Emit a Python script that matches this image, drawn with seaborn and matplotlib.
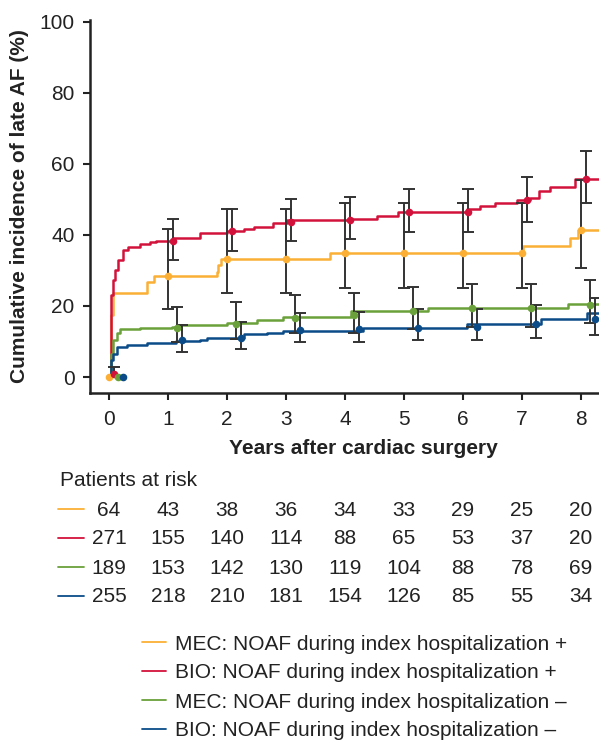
import numpy as np
import pandas as pd
import matplotlib
matplotlib.use("Agg")
import matplotlib.pyplot as plt
import matplotlib.transforms as mtransforms
from matplotlib.lines import Line2D
import seaborn as sns

# Group labels and colours
groups = ["MEC: NOAF during index hospitalization +",
          "BIO: NOAF during index hospitalization +",
          "MEC: NOAF during index hospitalization \u2013",
          "BIO: NOAF during index hospitalization \u2013"]
colors = ["#FBB035", "#D3123C", "#6AA13A", "#0B4C88"]

# Step curves (years, %)
orange_t = [0, 0.04, 0.07, 0.64, 0.76, 1.83, 1.85, 1.89, 3.75, 7.01, 7.81, 7.95, 8.3]
orange_v = [0, 17.5, 23.6, 26.8, 28.5, 29.7, 31.5, 33.1, 34.8, 37.0, 39.2, 41.4, 41.4]
red_t = [0, 0.04, 0.07, 0.1, 0.16, 0.24, 0.33, 0.52, 0.69, 0.8, 1.09, 1.54, 2.0, 2.28,
         2.45, 2.78, 3.01, 4.07, 4.54, 4.9, 6.06, 6.29, 6.54, 6.91, 7.14, 7.28, 7.47, 7.9, 8.3]
red_v = [0, 23.1, 27.3, 30.1, 33.0, 35.8, 36.5, 37.4, 38.0, 38.4, 39.0, 40.5, 41.2, 41.7,
         42.3, 43.3, 44.2, 44.6, 45.4, 46.5, 47.2, 48.2, 48.9, 49.7, 50.3, 52.5, 53.6, 55.8, 55.8]
green_t = [0, 0.03, 0.07, 0.13, 0.19, 0.53, 1.06, 1.2, 2.0, 2.5, 2.95, 4.11, 5.41, 7.78, 8.3]
green_v = [0, 6.6, 10.4, 12.3, 13.4, 13.7, 14.2, 14.6, 15.1, 16.1, 16.8, 18.6, 19.4, 20.5, 20.5]
blue_t = [0, 0.03, 0.07, 0.13, 0.3, 0.64, 1.14, 1.54, 1.66, 2.28, 2.67, 2.95, 4.31, 6.06,
          7.33, 8.1, 8.3]
blue_v = [0, 4.8, 6.6, 8.5, 9.0, 9.5, 10.2, 10.4, 11.1, 12.0, 12.5, 13.0, 13.9, 14.9,
          16.3, 17.9, 17.9]

# Point estimates with confidence intervals at each year
years = [0, 1, 2, 3, 4, 5, 6, 7, 8]
orange_est = [0, 28.5, 33.1, 33.1, 34.8, 34.8, 34.8, 34.8, 41.4]
orange_lo = [0, 19.2, 23.6, 23.6, 25.0, 25.0, 25.0, 25.0, 30.6]
orange_hi = [0, 41.7, 47.3, 47.2, 48.9, 48.9, 48.9, 48.9, 55.5]
red_est = [0.8, 38.4, 41.1, 43.7, 44.2, 46.5, 46.5, 49.7, 55.8]
red_lo = [0, 33.0, 35.6, 38.3, 38.8, 40.7, 40.7, 43.5, 49.1]
red_hi = [2.9, 44.5, 47.3, 50.1, 50.6, 53.0, 53.0, 56.4, 63.7]
green_est = [0, 13.8, 14.9, 16.7, 17.5, 18.7, 19.4, 19.4, 20.4]
green_lo = [0, 9.9, 10.7, 12.4, 12.5, 13.5, 14.0, 14.0, 15.2]
green_hi = [0, 19.8, 21.0, 23.0, 23.6, 25.2, 26.1, 26.1, 27.3]
blue_est = [0, 10.4, 11.1, 13.2, 13.4, 13.9, 14.2, 14.9, 16.3]
blue_lo = [0, 7.1, 7.9, 9.9, 9.9, 10.4, 10.4, 10.9, 11.8]
blue_hi = [0, 14.6, 15.6, 18.0, 18.2, 19.2, 19.2, 20.2, 22.3]

# Patients at risk
orange_risk = [64, 43, 38, 36, 34, 33, 29, 25, 20]
red_risk = [271, 155, 140, 114, 88, 65, 53, 37, 20]
green_risk = [189, 153, 142, 130, 119, 104, 88, 78, 69]
blue_risk = [255, 218, 210, 181, 154, 126, 85, 55, 34]

curves = [(orange_t, orange_v), (red_t, red_v), (green_t, green_v), (blue_t, blue_v)]
points = [(orange_est, orange_lo, orange_hi), (red_est, red_lo, red_hi),
          (green_est, green_lo, green_hi), (blue_est, blue_lo, blue_hi)]
risks = [orange_risk, red_risk, green_risk, blue_risk]
dodge = [0.0, 0.08, 0.16, 0.24]

curve_df = pd.concat([pd.DataFrame({"t": t, "v": v, "group": g})
                      for (t, v), g in zip(curves, groups)], ignore_index=True)
palette = dict(zip(groups, colors))

sns.set_style("ticks")
plt.rcParams["font.family"] = ["Liberation Sans", "DejaVu Sans"]
FS = 15
TXT = "#222222"
W, H = 599, 740
fig = plt.figure(figsize=(W / 100, H / 100), dpi=100)
ax = fig.add_axes([90 / W, 1 - 393 / H, 509 / W, (393 - 20) / H])

sns.lineplot(data=curve_df, x="t", y="v", hue="group", palette=palette,
             estimator=None, drawstyle="steps-post", linewidth=1.8, legend=False, ax=ax)

for (est, lo, hi), c, d in zip(points, colors, dodge):
    xs = np.array(years) + d
    est = np.array(est)
    err = [est - np.array(lo), np.array(hi) - est]
    has_ci = (np.array(hi) - np.array(lo)) > 0
    ax.errorbar(xs[has_ci], est[has_ci], yerr=[err[0][has_ci], err[1][has_ci]],
                fmt="none", ecolor="#333333", elinewidth=1.4, capsize=4.5,
                capthick=1.4, zorder=4)
    sns.scatterplot(x=xs, y=est, color=c, s=30, edgecolor=c, linewidth=0,
                    zorder=5, ax=ax, legend=False)

ax.set_xlim(-0.322, 8.305)
ax.set_ylim(-4.5, 100.5)
ax.set_xticks(years)
ax.set_yticks([0, 20, 40, 60, 80, 100])
for s in ["top", "right"]:
    ax.spines[s].set_visible(False)
for s in ["left", "bottom"]:
    ax.spines[s].set_linewidth(1.8)
    ax.spines[s].set_color(TXT)
ax.tick_params(length=5, width=1.5, color=TXT, labelsize=FS, labelcolor=TXT, pad=6)
ax.tick_params(axis="x", pad=7)
ax.set_xlabel("Years after cardiac surgery", fontsize=FS, fontweight="bold", color=TXT)
ax.xaxis.label.set_va("center")
ax.xaxis.set_label_coords((363 - 90) / 509, (393 - 449) / 373)
ax.set_ylabel("Cumulative incidence of late AF (%)", fontsize=FS,
              fontweight="bold", color=TXT)
ax.yaxis.label.set_va("center")
ax.yaxis.set_label_coords((20 - 90) / 509, 0.5)

# Patients at risk table
blend = mtransforms.blended_transform_factory(ax.transData, fig.transFigure)
fig.text(60 / W, 1 - 481 / H, "Patients at risk", fontsize=FS, color=TXT,
         ha="left", va="center")
for i, (r, c) in enumerate(zip(risks, colors)):
    yy = 1 - (509 + 29 * i) / H
    fig.add_artist(Line2D([58 / W, 84 / W], [yy, yy], color=c, lw=1.3))
    for yr, n in zip(years, r):
        ax.text(yr, yy - 1 / H, str(n), transform=blend, fontsize=FS, color=TXT,
                ha="center", va="center", clip_on=False)

# Legend
for i, (g, c) in enumerate(zip(groups, colors)):
    yy = 1 - (642 + 29 * i) / H
    fig.add_artist(Line2D([142 / W, 166 / W], [yy, yy], color=c, lw=1.3))
    fig.text(175 / W, yy - 2 / H, g, fontsize=FS, color=TXT, ha="left", va="center")

fig.savefig("out.png", dpi=100)
